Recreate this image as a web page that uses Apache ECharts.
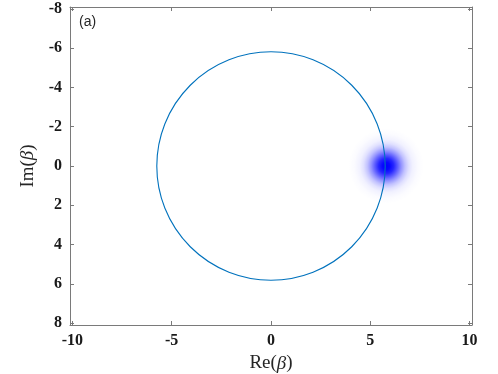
<!DOCTYPE html>
<html lang="en">
  <head>
    <meta charset="utf-8" />
    <title>Re(beta) / Im(beta) plane</title>
    <script src="https://cdn.jsdelivr.net/npm/echarts@6/dist/echarts.min.js"></script>
    <style>
      html, body { margin: 0; padding: 0; background: #fff; }
      #chart { width: 498px; height: 374px; }
    </style>
  </head>
  <body>
    <div id="chart"></div>
    <script>
      // values
      var xTicks = [-10, -5, 0, 5, 10];
      var yTicks = [-8, -6, -4, -2, 0, 2, 4, 6, 8];
      var xRange = [-10.12, 10.12];
      var yRange = [-8.1, 8.1];
      // circle: centre x, centre y, radius
      var circles = [[0, 0, 5.75]];
      // gaussian spot: centre x, centre y
      var spots = [[5.8, 0]];

      var serif = 'Liberation Serif';
      var axisGray = '#7a7a7a';

      function frameAxis(pos, ticks, range, showLabels) {
        return {
          type: 'value',
          position: pos,
          min: range[0],
          max: range[1],
          inverse: pos === 'left' || pos === 'right',
          splitLine: { show: false },
          axisLine: { show: true, onZero: false, lineStyle: { color: axisGray, width: 1 } },
          axisTick: { show: true, inside: true, length: 4, customValues: ticks, lineStyle: { color: axisGray } },
          axisLabel: {
            show: showLabels,
            customValues: ticks,
            fontFamily: serif,
            fontWeight: 'bold',
            fontSize: 16,
            color: '#1a1a1a',
            margin: 8
          }
        };
      }

      var xBottom = frameAxis('bottom', xTicks, xRange, true);
      xBottom.name = '{t|Re(}{b|β}{t|)}';
      xBottom.nameLocation = 'middle';
      xBottom.nameGap = 29;
      xBottom.nameTextStyle = {
        rich: {
          t: { fontFamily: serif, fontSize: 19, color: '#262626' },
          b: { fontFamily: serif, fontStyle: 'italic', fontSize: 19, color: '#262626' }
        }
      };
      var yLeft = frameAxis('left', yTicks, yRange, true);
      yLeft.name = '{t|Im(}{b|β}{t|)}';
      yLeft.nameLocation = 'middle';
      yLeft.nameGap = 25;
      yLeft.nameRotate = 90;
      yLeft.nameTextStyle = xBottom.nameTextStyle;

      var chart = echarts.init(document.getElementById('chart'), null, { renderer: 'canvas' });
      chart.setOption({
        animation: false,
        backgroundColor: '#ffffff',
        title: {
          text: '(a)',
          left: 74,
          top: 10,
          textStyle: { fontFamily: 'Liberation Sans', fontWeight: 'normal', fontSize: 14, color: '#262626' }
        },
        grid: { left: 70, right: 26, top: 7, bottom: 49, outerBoundsMode: 'none', containLabel: false },
        xAxis: [xBottom, frameAxis('top', xTicks, xRange, false)],
        yAxis: [yLeft, frameAxis('right', yTicks, yRange, false)],
        series: [
          {
            type: 'custom',
            data: spots,
            z: 2,
            renderItem: function (params, api) {
              var c = api.coord([api.value(0), api.value(1)]);
              var r = api.size([1.9, 0])[0];
              return {
                type: 'circle',
                shape: { cx: c[0], cy: c[1], r: r },
                style: {
                  fill: new echarts.graphic.RadialGradient(0.5, 0.5, 0.5, [
                    { offset: 0, color: 'rgba(0,0,255,1)' },
                    { offset: 0.1, color: 'rgba(0,0,255,0.97)' },
                    { offset: 0.2, color: 'rgba(0,0,255,0.85)' },
                    { offset: 0.3, color: 'rgba(0,0,255,0.64)' },
                    { offset: 0.4, color: 'rgba(0,0,255,0.42)' },
                    { offset: 0.5, color: 'rgba(0,0,255,0.24)' },
                    { offset: 0.6, color: 'rgba(0,0,255,0.12)' },
                    { offset: 0.7, color: 'rgba(0,0,255,0.055)' },
                    { offset: 0.85, color: 'rgba(0,0,255,0.015)' },
                    { offset: 1, color: 'rgba(0,0,255,0)' }
                  ])
                }
              };
            }
          },
          {
            type: 'custom',
            data: circles,
            z: 3,
            renderItem: function (params, api) {
              var c = api.coord([api.value(0), api.value(1)]);
              var r = api.size([api.value(2), 0])[0];
              return {
                type: 'circle',
                shape: { cx: c[0], cy: c[1], r: r },
                style: { fill: 'none', stroke: '#0072BD', lineWidth: 1.1 }
              };
            }
          }
        ]
      });
    </script>
  </body>
</html>
